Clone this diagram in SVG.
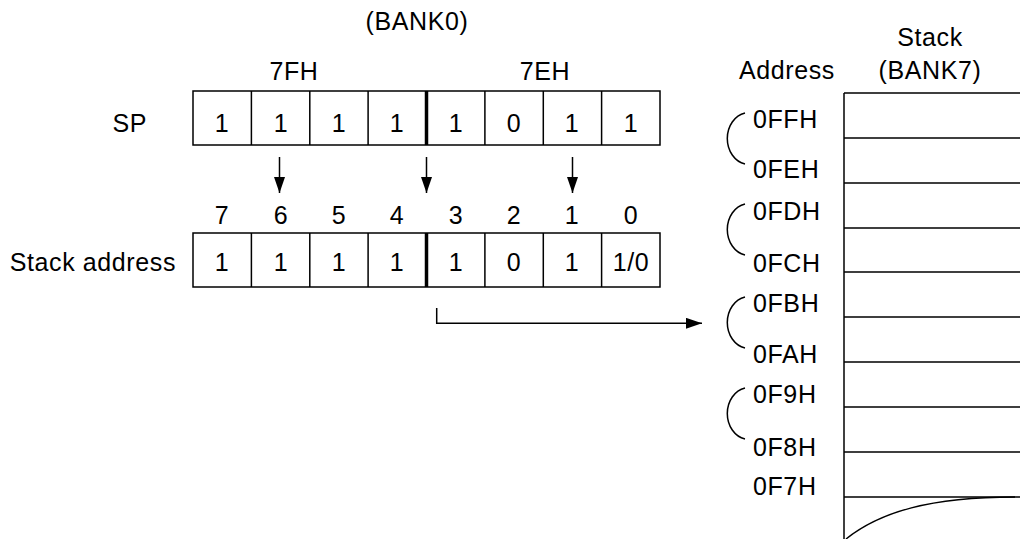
<svg xmlns="http://www.w3.org/2000/svg" width="1020" height="539" viewBox="0 0 1020 539">
  <style>
    text { font-family: "Liberation Sans", Arial, sans-serif; font-size: 25px; letter-spacing: 0.6px; fill: #000; }
    .c { text-anchor: middle; }
    .e { text-anchor: end; }
    .ln { stroke: #000; stroke-width: 1.5; fill: none; }
    .thick { stroke: #000; stroke-width: 3.5; fill: none; }
    .cell { fill: #fff; stroke: #000; stroke-width: 1.5; }
  </style>
  <defs>
    <marker id="ah" markerWidth="16" markerHeight="11" refX="16" refY="5.5" orient="auto" markerUnits="userSpaceOnUse">
      <path d="M0,0 L16,5.5 L0,11 Z" fill="#000"/>
    </marker>
  </defs>
  <rect width="1020" height="539" fill="#fff"/>

  <g id="titles">
    <text class="c" x="417" y="30">(BANK0)</text>
    <text class="c" x="294" y="80">7FH</text>
    <text class="c" x="545" y="80">7EH</text>
    <text class="c" x="787" y="79">Address</text>
    <text class="c" x="930" y="46">Stack</text>
    <text class="c" x="930" y="79">(BANK7)</text>
  </g>

  <g id="sp-register">
    <text class="e" x="147" y="132">SP</text>
    <rect class="cell" x="193" y="91" width="467" height="54"/>
    <path class="ln" d="M251.4,91V145M309.8,91V145M368.1,91V145M484.9,91V145M543.3,91V145M601.6,91V145"/>
    <path class="thick" d="M426.5,91V145"/>
    <text class="c" x="222" y="132">1</text>
    <text class="c" x="281" y="132">1</text>
    <text class="c" x="339" y="132">1</text>
    <text class="c" x="397" y="132">1</text>
    <text class="c" x="456" y="132">1</text>
    <text class="c" x="514" y="132">0</text>
    <text class="c" x="572" y="132">1</text>
    <text class="c" x="631" y="132">1</text>
  </g>

  <g id="bit-numbers">
    <text class="c" x="222" y="224">7</text>
    <text class="c" x="281" y="224">6</text>
    <text class="c" x="339" y="224">5</text>
    <text class="c" x="397" y="224">4</text>
    <text class="c" x="456" y="224">3</text>
    <text class="c" x="514" y="224">2</text>
    <text class="c" x="572" y="224">1</text>
    <text class="c" x="631" y="224">0</text>
  </g>

  <g id="stack-address">
    <text class="e" x="176" y="271">Stack address</text>
    <rect class="cell" x="193" y="233" width="467" height="54"/>
    <path class="ln" d="M251.4,233V287M309.8,233V287M368.1,233V287M484.9,233V287M543.3,233V287M601.6,233V287"/>
    <path class="thick" d="M426.5,233V287"/>
    <text class="c" x="222" y="271">1</text>
    <text class="c" x="281" y="271">1</text>
    <text class="c" x="339" y="271">1</text>
    <text class="c" x="397" y="271">1</text>
    <text class="c" x="456" y="271">1</text>
    <text class="c" x="514" y="271">0</text>
    <text class="c" x="572" y="271">1</text>
    <text class="c" x="631" y="271">1/0</text>
  </g>

  <g id="connectors">
    <path class="ln" d="M279.5,157V193" marker-end="url(#ah)"/>
    <path class="ln" d="M426.5,157V193" marker-end="url(#ah)"/>
    <path class="ln" d="M572.5,157V193" marker-end="url(#ah)"/>
    <path class="ln" d="M436.7,308V323.3H702" marker-end="url(#ah)"/>
  </g>

  <g id="stack-memory">
    <path class="ln" d="M844,93V539"/>
    <path class="ln" d="M844,93H1020M844,138H1020M844,183H1020M844,228H1020M844,272H1020M844,317H1020M844,362H1020M844,407H1020M844,452H1020M844,497H1020"/>
    <path class="ln" d="M846,539C880,512 930,497 1015,497"/>
  </g>

  <g id="address-labels">
    <path class="ln" d="M745,113A22,26 0 0 0 745,164"/>
    <path class="ln" d="M745,204A22,26 0 0 0 745,255"/>
    <path class="ln" d="M745,297A22,26 0 0 0 745,348"/>
    <path class="ln" d="M745,388A22,26 0 0 0 745,439"/>
    <text x="753" y="128">0FFH</text>
    <text x="753" y="178">0FEH</text>
    <text x="753" y="220">0FDH</text>
    <text x="753" y="272">0FCH</text>
    <text x="753" y="312">0FBH</text>
    <text x="753" y="363">0FAH</text>
    <text x="753" y="403">0F9H</text>
    <text x="753" y="456">0F8H</text>
    <text x="753" y="495">0F7H</text>
  </g>
</svg>
